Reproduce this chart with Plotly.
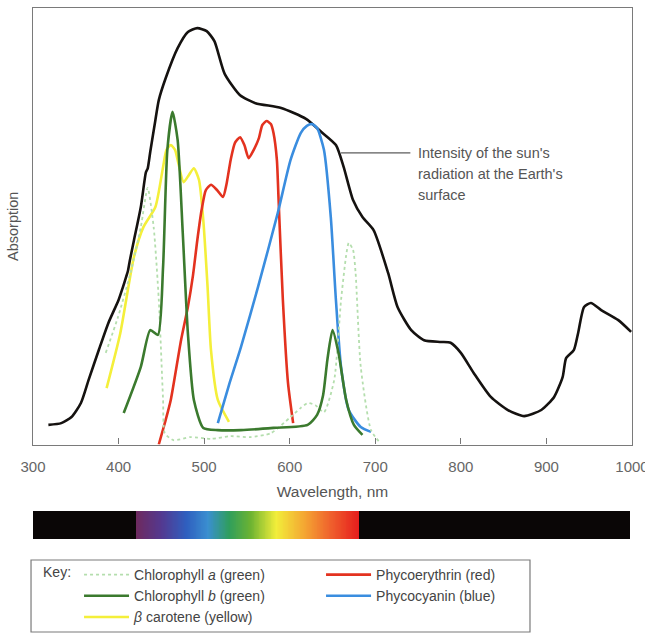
import plotly.graph_objects as go

# ---- Solar intensity at the Earth's surface (relative units) ----
sun_nm = [318, 333, 345, 356, 365, 377, 388, 400, 405, 409, 411, 413, 418, 426, 430,
          432, 434, 437, 443, 447, 455, 469, 481, 492, 503, 512, 524, 542, 560, 590,
          619, 637, 654, 663, 674, 685, 698, 715, 726, 742, 757, 777, 788, 800, 815,
          835, 855, 874, 894, 909, 919, 923, 932, 937, 944, 952, 964, 984, 999]
sun_val = [4.5, 4.9, 6.3, 9.5, 14.8, 21.7, 27.8, 33.1, 36.0, 38.5, 39.8, 42.0, 46.8, 54.4, 60.0,
           62.4, 63.2, 67.0, 74.3, 78.9, 83.9, 90.8, 94.5, 95.4, 94.7, 92.4, 84.9, 80.0, 78.2, 77.1,
           74.6, 71.6, 68.6, 63.6, 56.0, 52.1, 49.1, 39.3, 31.5, 26.2, 23.9, 23.5, 23.3, 21.0, 16.4,
           10.9, 7.9, 6.5, 7.9, 10.9, 15.5, 19.8, 21.6, 25.5, 31.5, 32.4, 30.8, 28.5, 25.8]

# ---- Pigment absorption spectra (relative units) ----
chl_a_nm = [385, 399, 414, 426, 434, 441, 447, 452, 454, 464, 484, 508, 531, 554, 578,
            601, 613, 621, 630, 640, 652, 660, 666, 669, 674, 677, 683, 695, 706]
chl_a_val = [21.0, 29.0, 39.3, 49.8, 58.8, 49.8, 33.1, 10.2, 2.6, 1.0, 1.7, 1.3, 1.9, 1.7, 2.6,
             6.3, 8.4, 9.5, 9.0, 7.4, 14.8, 33.1, 43.4, 46.2, 44.6, 39.3, 17.8, 3.3, 0.3]

chl_b_nm = [406, 426, 437, 446, 452, 457, 463, 469, 475, 481, 488, 499, 516, 543, 581,
            621, 632, 639, 644, 650, 657, 666, 675, 685]
chl_b_val = [7.2, 17.8, 26.2, 25.1, 40.7, 67.5, 76.2, 69.8, 48.5, 25.5, 10.2, 3.8, 3.3, 3.3, 3.8,
             4.5, 6.8, 11.3, 19.4, 26.2, 21.0, 10.2, 4.5, 2.2]

carotene_nm = [386, 402, 418, 429, 443, 452, 456, 461, 466, 469, 476, 482, 488, 494, 499,
               504, 508, 516, 529]
carotene_val = [12.9, 25.5, 43.0, 49.8, 54.4, 63.6, 67.5, 68.6, 67.5, 65.2, 60.1, 61.7, 63.3, 60.6, 51.4,
                36.1, 21.6, 10.2, 5.2]

phycoerythrin_nm = [447, 455, 461, 473, 481, 487, 492, 497, 502, 508, 515, 522, 526, 531, 536,
                    542, 547, 552, 558, 564, 568, 573, 578, 581, 585, 587, 592, 598, 604]
phycoerythrin_val = [0.0, 5.6, 10.2, 23.9, 31.5, 38.8, 46.8, 53.7, 58.3, 59.5, 58.3, 56.7, 59.5, 65.2, 69.1,
                     70.4, 68.6, 65.6, 67.5, 70.2, 73.2, 74.1, 73.4, 71.4, 65.2, 56.0, 33.1, 14.1, 4.9]

phycocyanin_nm = [516, 529, 543, 563, 586, 601, 613, 620, 626, 632, 640, 648, 654, 660, 669,
                  683, 695]
phycocyanin_val = [4.9, 13.6, 22.3, 36.1, 53.0, 65.2, 71.4, 73.0, 73.4, 72.5, 67.5, 52.1, 33.1, 17.8, 7.9,
                   4.0, 2.9]

# ---- Visible spectrum strip ----
strip_nm = list(range(300, 1001, 1))
spectrum_stops_nm = [300, 420.5, 421, 450, 480, 505, 530, 555, 585, 620, 650, 682, 682.5, 1000]
spectrum_stops_col = ["#0a0606", "#0a0606", "#6e2a5e", "#54388f", "#2f5fbf", "#3a8fd0", "#2f9e5c",
                      "#6cb332", "#f2ee3a", "#f4a232", "#ef5e2c", "#e61d1d", "#0a0606", "#0a0606"]

wl_ticks = [300, 400, 500, 600, 700, 800, 900, 1000]

TEXT = "#555555"
FONT = "Liberation Sans"

fig = go.Figure()

fig.add_trace(go.Scatter(x=sun_nm, y=sun_val, mode="lines", showlegend=False,
                         line=dict(color="#151210", width=2.6, shape="spline", smoothing=0.6),
                         hoverinfo="skip"))

pigments = [
    ("Chlorophyll <i>a</i> (green)", chl_a_nm, chl_a_val, "#b4dead", "dot", 1.8, 1),
    ("Phycoerythrin (red)", phycoerythrin_nm, phycoerythrin_val, "#e3321f", "solid", 2.6, 2),
    ("Chlorophyll <i>b</i> (green)", chl_b_nm, chl_b_val, "#3b7a2e", "solid", 2.6, 3),
    ("Phycocyanin (blue)", phycocyanin_nm, phycocyanin_val, "#3a8ddf", "solid", 2.6, 4),
    ("<i>β</i> carotene (yellow)", carotene_nm, carotene_val, "#f4ef3a", "solid", 2.6, 5),
]
draw_order = [4, 1, 3, 0, 2]
for i in draw_order:
    name, xs, ys, col, dash, w, rank = pigments[i]
    fig.add_trace(go.Scatter(x=xs, y=ys, mode="lines", name=name, legendrank=rank,
                             line=dict(color=col, width=w, dash=dash, shape="spline", smoothing=0.6)))

# spectrum strip on its own axes
lo, hi = strip_nm[0], strip_nm[-1]
colorscale = [[(s - lo) / (hi - lo), c] for s, c in zip(spectrum_stops_nm, spectrum_stops_col)]
fig.add_trace(go.Heatmap(x=strip_nm, y=[0], z=[strip_nm], colorscale=colorscale,
                         zmin=lo, zmax=hi, showscale=False, xaxis="x2", yaxis="y2",
                         hoverinfo="skip", showlegend=False))

# label line for the solar curve
fig.add_shape(type="line", x0=660, x1=741, y0=66.8, y1=66.8, xref="x", yref="y",
              line=dict(color="#333333", width=1))
for txt, yv in [("Intensity of the sun's", 66.8), ("radiation at the Earth's", 62.0), ("surface", 57.2)]:
    fig.add_annotation(x=748, y=yv, xref="x", yref="y", xanchor="left", yanchor="middle",
                       text=txt, showarrow=False, align="left",
                       font=dict(family=FONT, size=14.5, color=TEXT))

fig.add_annotation(x=-0.033, y=0.65, xref="paper", yref="paper", text="Absorption",
                   textangle=-90, showarrow=False, xanchor="center", yanchor="middle",
                   font=dict(family=FONT, size=14.5, color=TEXT))

# frame around the key
fig.add_shape(type="rect", xref="paper", yref="paper", x0=-0.0033, x1=0.8297, y0=0.0016, y1=0.1168,
              line=dict(color="#7a7a7a", width=1.2), fillcolor="rgba(0,0,0,0)")

fig.update_layout(
    width=645, height=633,
    margin=dict(l=33, r=13, t=8, b=0, autoexpand=False),
    paper_bgcolor="white", plot_bgcolor="white",
    font=dict(family=FONT, color=TEXT),
    xaxis=dict(range=[300, 1000], tickvals=wl_ticks, ticks="inside", ticklen=6,
               tickcolor="#777777", showgrid=False, zeroline=False, automargin=False,
               showline=True, linecolor="#7a7a7a", linewidth=1.2, mirror=True,
               tickfont=dict(family=FONT, size=15, color="#666666"), ticklabelstandoff=8,
               ticklabeloverflow="allow",
               title=dict(text="Wavelength, nm", font=dict(family=FONT, size=15.5, color=TEXT),
                          standoff=12)),
    yaxis=dict(range=[0, 100], domain=[0.3016, 1.0], showticklabels=False, ticks="",
               showgrid=False, zeroline=False, showline=True, linecolor="#7a7a7a",
               linewidth=1.2, mirror=True, automargin=False),
    xaxis2=dict(range=[300, 1000], anchor="y2", visible=False, domain=[0, 0.9967]),
    yaxis2=dict(domain=[0.1504, 0.1952], anchor="x2", visible=False),
    legend=dict(orientation="h", x=0.0134, y=0.1184, xanchor="left", yanchor="top",
                entrywidth=182, entrywidthmode="pixels", traceorder="normal", itemwidth=45,
                borderwidth=0, bgcolor="rgba(0,0,0,0)",
                font=dict(family=FONT, size=14, color="#444444"),
                title=dict(text="Key:", side="left", font=dict(family=FONT, size=14, color="#444444"))),
)

fig.write_html("out.html")
